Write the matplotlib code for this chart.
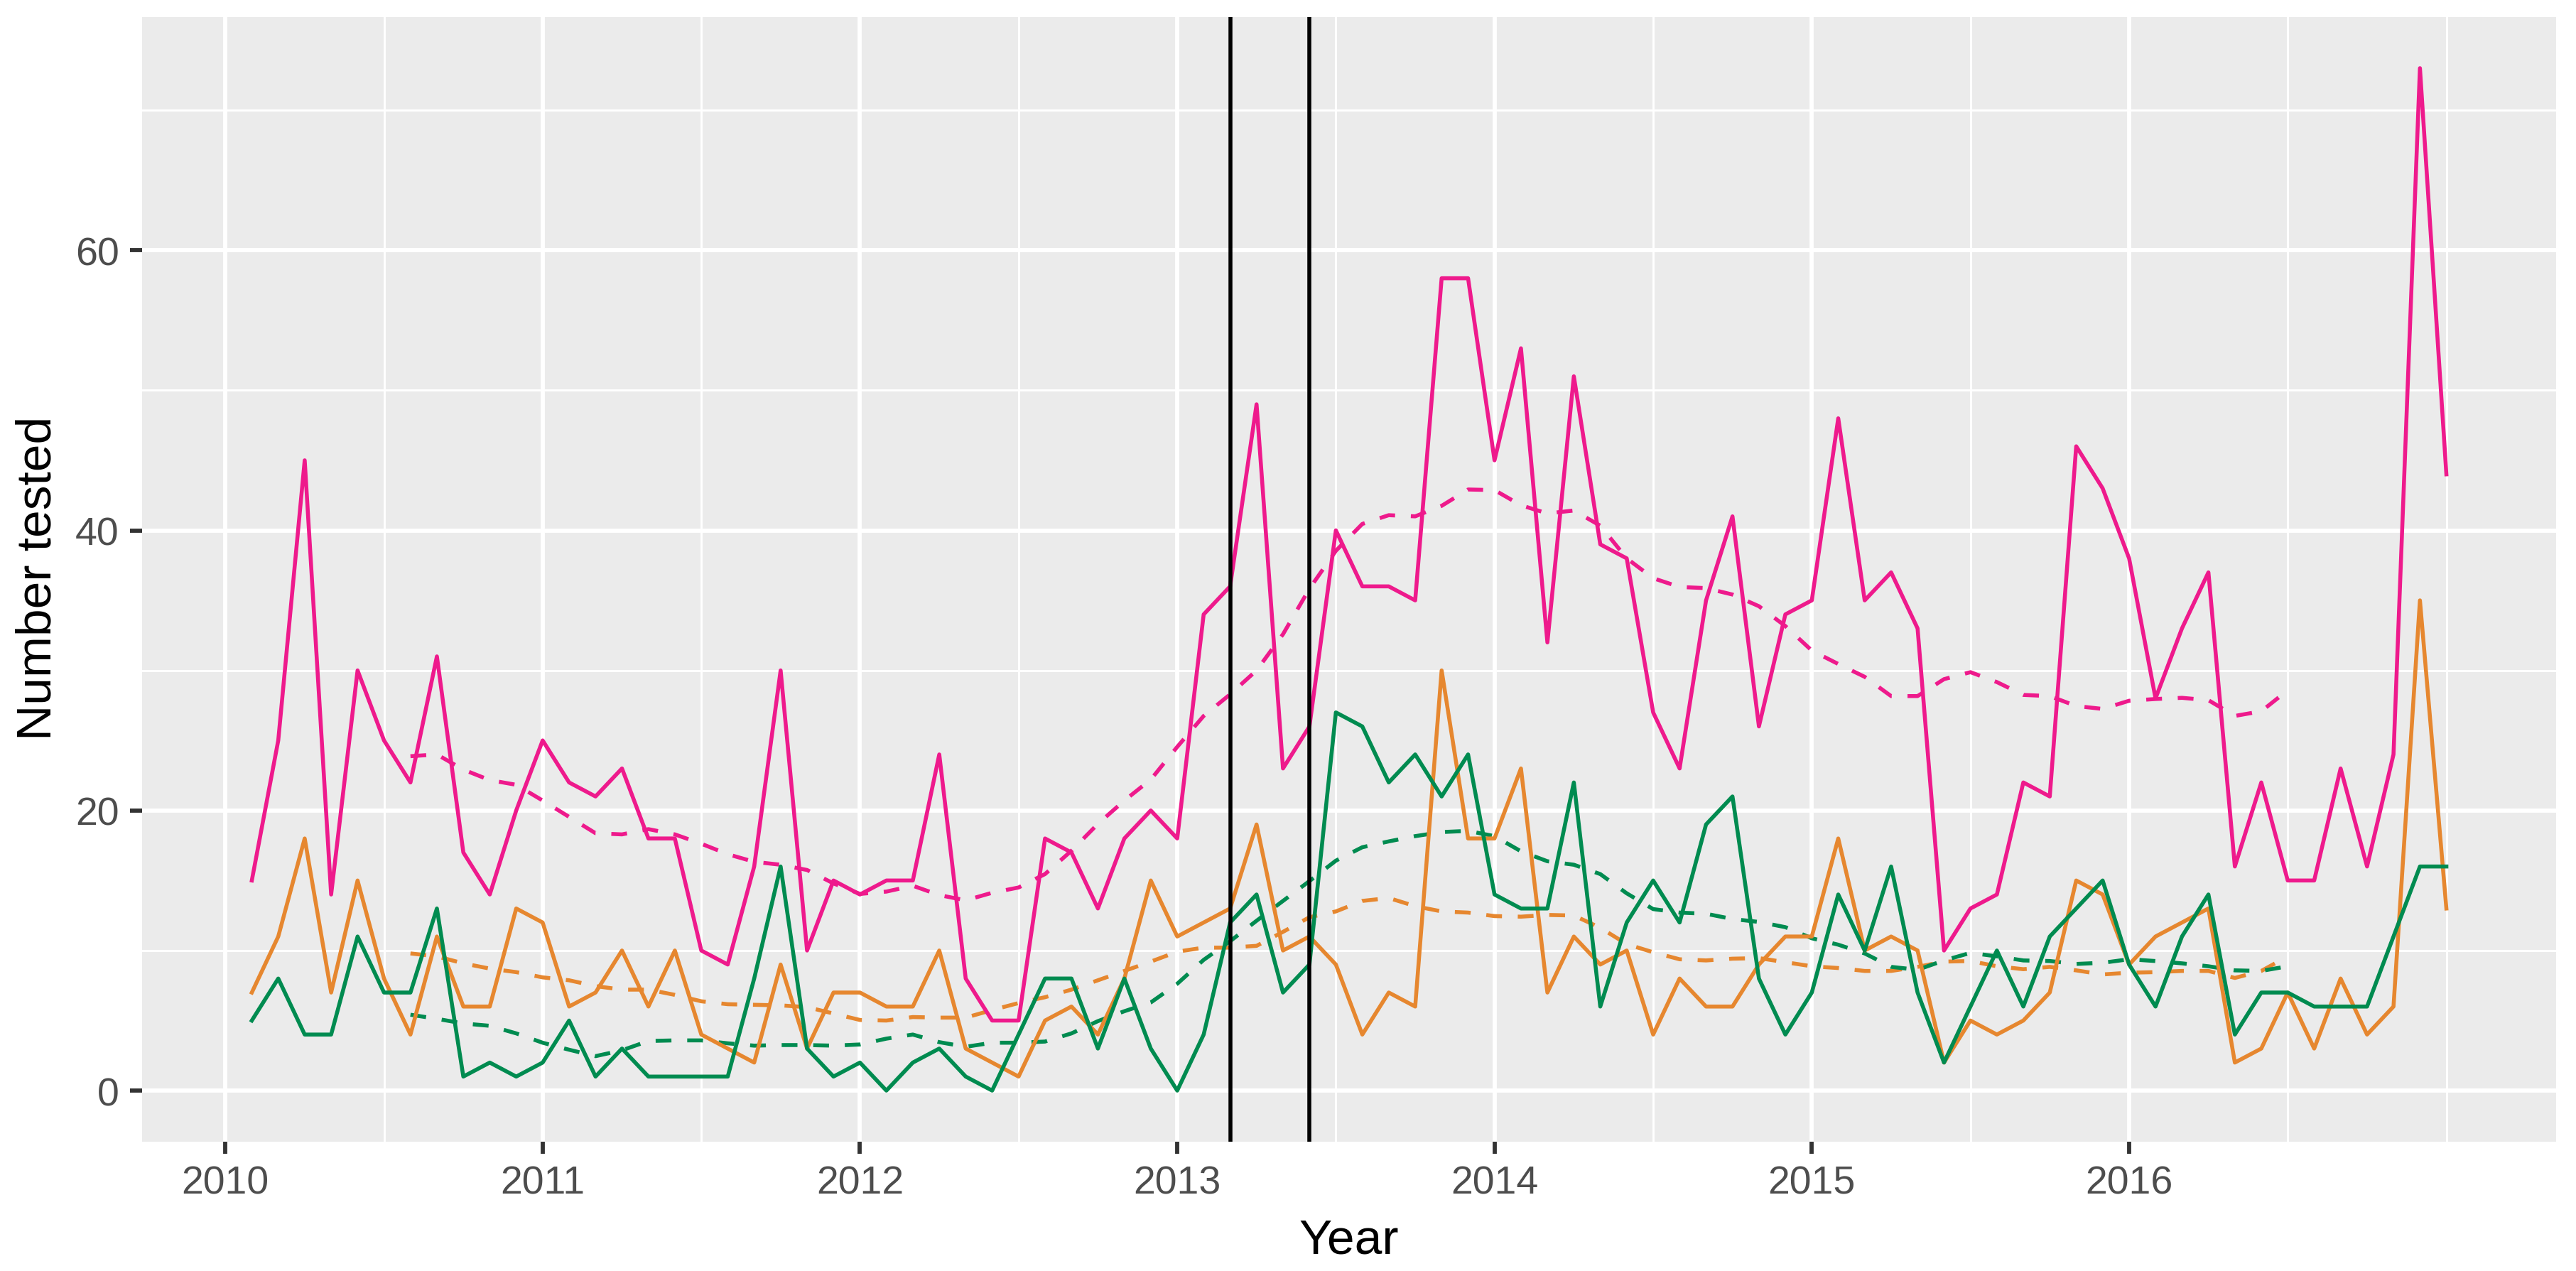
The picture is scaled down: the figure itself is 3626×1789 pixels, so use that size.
import numpy as np
import matplotlib.pyplot as plt

# monthly counts, Jan 2010 .. Dec 2016 (plotted at year + month/12)
months = np.arange(1, 85)
year_frac = 2010 + months / 12

pink_vals = [15, 25, 45, 14, 30, 25, 22, 31, 17, 14, 20, 25,
             22, 21, 23, 18, 18, 10, 9, 16, 30, 10, 15, 14,
             15, 15, 24, 8, 5, 5, 18, 17, 13, 18, 20, 18,
             34, 36, 49, 23, 26, 40, 36, 36, 35, 58, 58, 45,
             53, 32, 51, 39, 38, 27, 23, 35, 41, 26, 34, 35,
             48, 35, 37, 33, 10, 13, 14, 22, 21, 46, 43, 38,
             28, 33, 37, 16, 22, 15, 15, 23, 16, 24, 73, 44]

orange_vals = [7, 11, 18, 7, 15, 8, 4, 11, 6, 6, 13, 12,
               6, 7, 10, 6, 10, 4, 3, 2, 9, 3, 7, 7,
               6, 6, 10, 3, 2, 1, 5, 6, 4, 8, 15, 11,
               12, 13, 19, 10, 11, 9, 4, 7, 6, 30, 18, 18,
               23, 7, 11, 9, 10, 4, 8, 6, 6, 9, 11, 11,
               18, 10, 11, 10, 2, 5, 4, 5, 7, 15, 14, 9,
               11, 12, 13, 2, 3, 7, 3, 8, 4, 6, 35, 13]

green_vals = [5, 8, 4, 4, 11, 7, 7, 13, 1, 2, 1, 2,
              5, 1, 3, 1, 1, 1, 1, 8, 16, 3, 1, 2,
              0, 2, 3, 1, 0, 4, 8, 8, 3, 8, 3, 0,
              4, 12, 14, 7, 9, 27, 26, 22, 24, 21, 24, 14,
              13, 13, 22, 6, 12, 15, 12, 19, 21, 8, 4, 7,
              14, 10, 16, 7, 2, 6, 10, 6, 11, 13, 15, 9,
              6, 11, 14, 4, 7, 7, 6, 6, 6, 11, 16, 16]

# the two black reference lines (Mar 2013, Jun 2013)
event_times = [2013 + 2 / 12, 2013 + 5 / 12]

colours = {'pink': '#EE1A8C', 'orange': '#E6872F', 'green': '#008B50'}


def centred_ma(x, order=12):
    # 2x12 centred moving average
    w = np.r_[0.5, np.ones(order - 1), 0.5] / order
    return np.convolve(np.asarray(x, float), w, mode='valid')


plt.rcParams['font.family'] = ['Liberation Sans', 'DejaVu Sans']

W, H = 3626, 1790
fig = plt.figure(figsize=(W / 200, H / 200), dpi=200)
ax = fig.add_axes([200 / W, 1 - 1608 / H, 3398 / W, 1583 / H])
ax.set_facecolor('#EBEBEB')
for s in ax.spines.values():
    s.set_visible(False)

half = 6
ma_x = year_frac[half:len(year_frac) - half]

series = [('pink', pink_vals), ('orange', orange_vals), ('green', green_vals)]
for name, vals in series:
    ax.plot(ma_x, centred_ma(vals), color=colours[name], lw=2.0,
            linestyle=(0, (4, 4)), solid_capstyle='butt')
for name, vals in series:
    ax.plot(year_frac, vals, color=colours[name], lw=2.0)

for t in event_times:
    ax.axvline(t, color='black', lw=2.0)

# ggplot-like expansion of 5%
xr = year_frac.max() - year_frac.min()
ax.set_xlim(year_frac.min() - 0.05 * xr, year_frac.max() + 0.05 * xr)
ymax = max(max(pink_vals), max(orange_vals), max(green_vals))
ax.set_ylim(-0.05 * ymax, ymax * 1.05)

ax.set_xticks(range(2010, 2017))
ax.set_xticks([2010.5 + i for i in range(7)] + [2017], minor=True)
ax.set_yticks([0, 20, 40, 60])
ax.set_yticks([10, 30, 50, 70], minor=True)
ax.set_axisbelow(True)
ax.grid(which='major', color='white', lw=2.1)
ax.grid(which='minor', color='white', lw=1.05)
ax.tick_params(which='minor', length=0)
ax.tick_params(which='major', length=6.1, width=2.1, color='#333333',
               labelcolor='#4D4D4D', labelsize=20, pad=5.5)

fig.text(1899 / W, 1 - 1765 / H, 'Year', ha='center', va='baseline',
         fontsize=25, color='black')
fig.text(72 / W, 1 - 814 / H, 'Number tested', ha='center', va='baseline',
         rotation=90, rotation_mode='anchor', fontsize=25, color='black')

fig.savefig('out.png', dpi=200, facecolor='white')
